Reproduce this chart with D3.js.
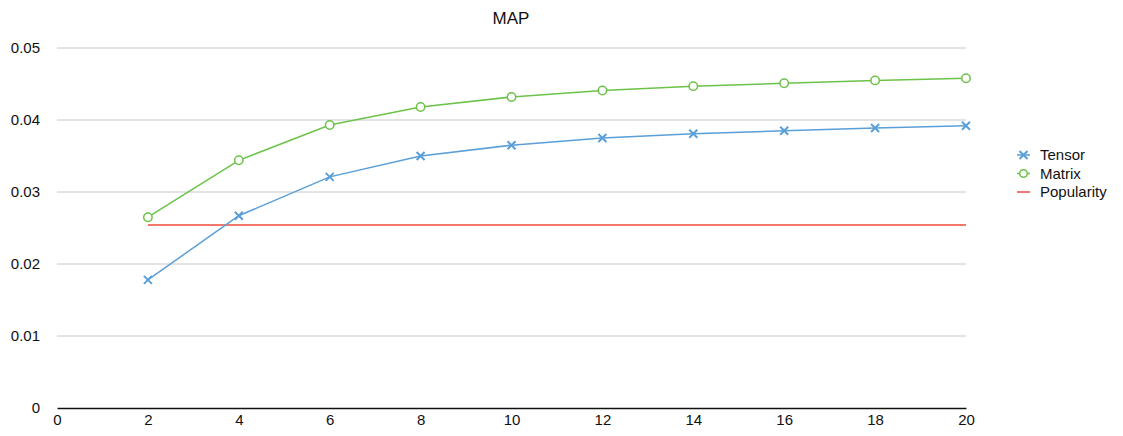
<!DOCTYPE html>
<html>
<head>
<meta charset="utf-8">
<script src="https://cdn.jsdelivr.net/npm/d3@7"></script>
<style>
  html, body { margin: 0; padding: 0; background: #fff; }
  svg { display: block; font-family: "Liberation Sans", Helvetica, Arial, sans-serif; }
</style>
</head>
<body>
<svg id="chart" width="1123" height="436"></svg>
<script>
// MAP at each cutoff
const cutoffs = [2, 4, 6, 8, 10, 12, 14, 16, 18, 20];
const tensor = [0.0178, 0.0267, 0.0321, 0.0350, 0.0365, 0.0375, 0.0381, 0.0385, 0.0389, 0.0392];
const matrix = [0.0265, 0.0344, 0.0393, 0.0418, 0.0432, 0.0441, 0.0447, 0.0451, 0.0455, 0.0458];
const popularity = [0.0254, 0.0254, 0.0254, 0.0254, 0.0254, 0.0254, 0.0254, 0.0254, 0.0254, 0.0254];
const xTicks = [0, 2, 4, 6, 8, 10, 12, 14, 16, 18, 20];
const yTicks = [0, 0.01, 0.02, 0.03, 0.04, 0.05];
const seriesNames = ["Tensor", "Matrix", "Popularity"];
const colors = { Tensor: "#5a9fd8", Matrix: "#6cc24a", Popularity: "#ee4b3a" };
const font = "Liberation Sans, Helvetica, Arial, sans-serif";

const svg = d3.select("#chart");
const x = d3.scaleLinear().domain([0, 20]).range([57, 966]);
const y = d3.scaleLinear().domain([0, 0.05]).range([408, 48]);

// horizontal gridlines
svg.append("g")
  .selectAll("line")
  .data(yTicks.filter(d => d > 0))
  .join("line")
  .attr("x1", x(0)).attr("x2", x(20))
  .attr("y1", d => y(d)).attr("y2", d => y(d))
  .attr("stroke", "#c8c8c8").attr("stroke-width", 1);

// y axis labels
const yAxis = d3.axisLeft(y).tickValues(yTicks).tickSize(0).tickPadding(0)
  .tickFormat(d => d === 0 ? "0" : d3.format(".2f")(d));
svg.append("g")
  .attr("transform", "translate(40,0)")
  .call(yAxis)
  .call(g => g.select(".domain").remove())
  .call(g => g.selectAll("text").attr("font-size", 15).attr("fill", "#111").attr("font-family", font));

// x axis
const xAxis = d3.axisBottom(x).tickValues(xTicks).tickSize(0).tickPadding(6).tickFormat(d3.format("d"));
svg.append("g")
  .attr("transform", `translate(0,${y(0)})`)
  .call(xAxis)
  .call(g => g.select(".domain").attr("stroke", "#111").attr("stroke-width", 1.5))
  .call(g => g.selectAll("text").attr("font-size", 15).attr("fill", "#111").attr("font-family", font));

// title
svg.append("text")
  .attr("x", 511).attr("y", 24)
  .attr("text-anchor", "middle")
  .attr("font-size", 17).attr("fill", "#111")
  .text("MAP");

const line = d3.line().x(d => x(d[0])).y(d => y(d[1]));
const pts = vals => cutoffs.map((c, i) => [c, vals[i]]);

// Popularity baseline
svg.append("path")
  .datum(pts(popularity))
  .attr("d", line)
  .attr("fill", "none").attr("stroke", colors.Popularity).attr("stroke-width", 1.5);

// Tensor
svg.append("path")
  .datum(pts(tensor))
  .attr("d", line)
  .attr("fill", "none").attr("stroke", colors.Tensor).attr("stroke-width", 1.5);

function cross(sel, cx, cy, color) {
  const s = 4;
  sel.append("path")
    .attr("d", `M${cx - s},${cy - s}L${cx + s},${cy + s}M${cx - s},${cy + s}L${cx + s},${cy - s}`)
    .attr("stroke", color).attr("stroke-width", 2).attr("fill", "none");
}
const tg = svg.append("g");
pts(tensor).forEach(p => cross(tg, x(p[0]), y(p[1]), colors.Tensor));

// Matrix
svg.append("path")
  .datum(pts(matrix))
  .attr("d", line)
  .attr("fill", "none").attr("stroke", colors.Matrix).attr("stroke-width", 1.5);
svg.append("g")
  .selectAll("circle")
  .data(pts(matrix))
  .join("circle")
  .attr("cx", d => x(d[0])).attr("cy", d => y(d[1]))
  .attr("r", 4.2)
  .attr("fill", "#fff").attr("stroke", colors.Matrix).attr("stroke-width", 1.5);

// legend
const lg = svg.append("g");
seriesNames.forEach((name, i) => {
  const ly = 155 + i * 18.5;
  const c = colors[name];
  lg.append("line").attr("x1", 1017).attr("x2", 1030).attr("y1", ly).attr("y2", ly)
    .attr("stroke", c).attr("stroke-width", 1.5);
  if (name === "Tensor") cross(lg, 1023.5, ly, c);
  if (name === "Matrix") lg.append("circle").attr("cx", 1023.5).attr("cy", ly).attr("r", 3.8)
    .attr("fill", "#fff").attr("stroke", c).attr("stroke-width", 1.5);
  lg.append("text").attr("x", 1040).attr("y", ly + 5)
    .attr("font-size", 15).attr("fill", "#111").attr("font-family", font).text(name);
});
</script>
</body>
</html>
